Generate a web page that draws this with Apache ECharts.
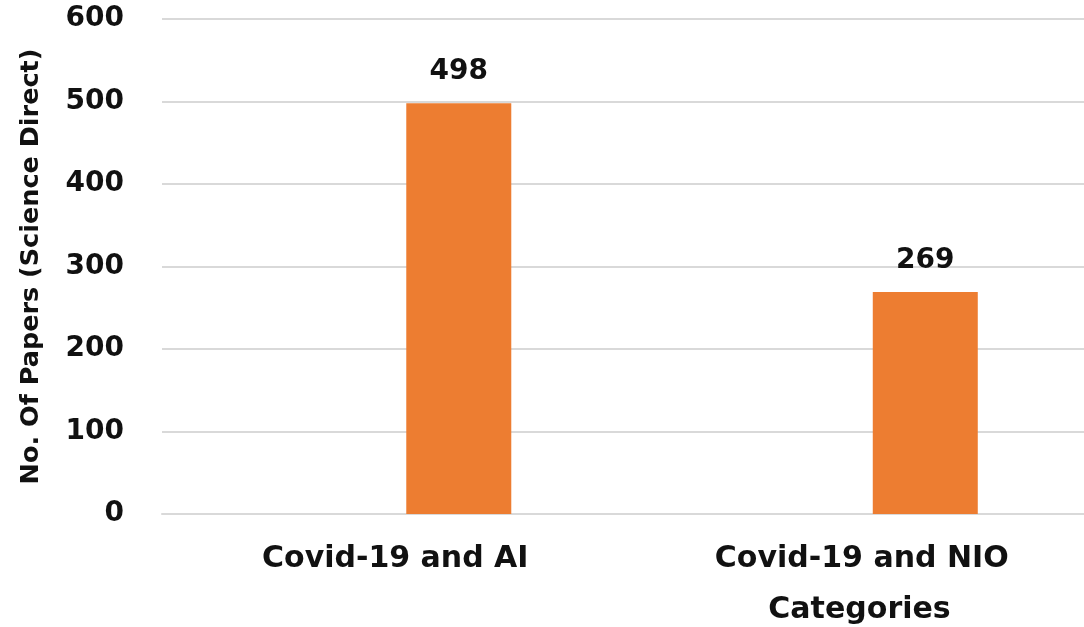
<!DOCTYPE html>
<html>
<head>
<meta charset="utf-8">
<style>
  html, body { margin: 0; padding: 0; background: #fff; }
  #chart { width: 1084px; height: 627px; }
</style>
<script src="https://cdn.jsdelivr.net/npm/echarts@6/dist/echarts.min.js"></script>
</head>
<body>
<div id="chart"></div>
<script>
  // chart data
  var categories = ['Covid-19 and AI', 'Covid-19 and NIO']
  var papers = [498, 269]
  var emptySeries = ['-', '-'] // blank slot left of each bar (as in the original Excel chart)
  var yTicks = [0, 100, 200, 300, 400, 500, 600]

  var font = 'DejaVu Sans'
  var chart = echarts.init(document.getElementById('chart'))
  chart.setOption({
    animation: false,
    grid: {
      left: 162,
      right: -11,
      top: 19,
      bottom: 113,
      outerBoundsMode: 'none'
    },
    xAxis: {
      type: 'category',
      data: categories,
      name: 'Categories',
      nameLocation: 'middle',
      nameGap: 81,
      nameTextStyle: {
        fontFamily: font,
        fontWeight: 'bold',
        fontSize: 30,
        color: '#111',
        padding: [0, 0, 0, 462]
      },
      axisLine: {
        show: true,
        lineStyle: { color: '#d9d9d9', width: 2 }
      },
      axisTick: { show: false },
      axisLabel: {
        margin: 30,
        fontFamily: font,
        fontWeight: 'bold',
        fontSize: 30,
        color: '#111'
      }
    },
    yAxis: {
      type: 'value',
      min: yTicks[0],
      max: yTicks[yTicks.length - 1],
      interval: 100,
      name: 'No. Of Papers (Science Direct)',
      nameLocation: 'middle',
      nameGap: 118,
      nameTextStyle: {
        fontFamily: font,
        fontWeight: 'bold',
        fontSize: 25.5,
        color: '#111'
      },
      axisLine: { show: false },
      axisTick: { show: false },
      splitLine: {
        show: true,
        lineStyle: { color: '#d9d9d9', width: 2 }
      },
      axisLabel: {
        margin: 38,
        fontFamily: font,
        fontWeight: 'bold',
        fontSize: 28,
        color: '#111'
      }
    },
    series: [{
      type: 'bar',
      data: emptySeries,
      barWidth: 105,
      barGap: '21%'
    }, {
      type: 'bar',
      data: papers,
      barWidth: 105,
      barGap: '21%',
      itemStyle: { color: '#ed7d31' },
      label: {
        show: true,
        position: 'top',
        distance: 17,
        fontFamily: font,
        fontWeight: 'bold',
        fontSize: 28,
        color: '#111'
      }
    }]
  })
</script>
</body>
</html>
